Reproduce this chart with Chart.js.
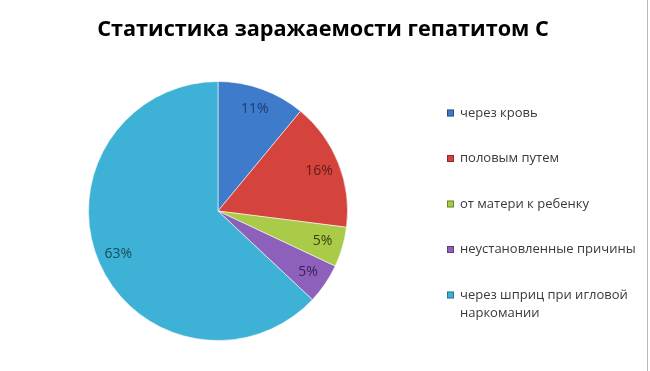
<!DOCTYPE html>
<html>
<head>
<meta charset="utf-8">
<script src="https://cdn.jsdelivr.net/npm/chart.js@4.4.1/dist/chart.umd.min.js"></script>
<style>
  html, body { margin: 0; padding: 0; background: #fff; }
  #wrap { width: 650px; height: 371px; position: relative; }
</style>
</head>
<body>
<div id="wrap"><canvas id="hepChart"></canvas></div>
<script>
const chartTitle = "Статистика заражаемости гепатитом С";
const categories = [
  "через кровь",
  "половым путем",
  "от матери к ребенку",
  "неустановленные причины",
  ["через шприц при игловой", "наркомании"]
];
const shares = [11, 16, 5, 5, 63];
const sliceColors = ["#3f7bcb", "#d5433d", "#a9cb48", "#8c60bb", "#3db2d6"];
const labelColors = ["#1d3c6e", "#5c1c19", "#34420f", "#3a1f5e", "#164b5c"];

// percent labels inside the slices
const sliceLabels = {
  id: "sliceLabels",
  afterDatasetsDraw(chart) {
    const ctx = chart.ctx;
    const meta = chart.getDatasetMeta(0);
    ctx.save();
    ctx.font = "14px 'Open Sans'";
    ctx.textAlign = "center";
    ctx.textBaseline = "middle";
    meta.data.forEach((arc, i) => {
      const p = arc.getProps(["x", "y", "startAngle", "endAngle", "outerRadius"], true);
      const mid = (p.startAngle + p.endAngle) / 2;
      const r = p.outerRadius * 0.84;
      ctx.fillStyle = labelColors[i];
      ctx.fillText(shares[i] + "%", p.x + Math.cos(mid) * r, p.y + Math.sin(mid) * r);
    });
    ctx.restore();
  }
};

// title + legend on the right, drawn by hand to match the spacing
const sideLegend = {
  id: "sideLegend",
  afterDraw(chart) {
    const ctx = chart.ctx;
    ctx.save();
    ctx.fillStyle = "#000";
    ctx.font = "bold 21.7px 'Open Sans'";
    ctx.textAlign = "center";
    ctx.textBaseline = "middle";
    ctx.fillText(chartTitle, 323, 30);

    ctx.textAlign = "left";
    ctx.font = "13px 'Open Sans'";
    categories.forEach((name, i) => {
      const y = 113 + i * 45.5;
      ctx.fillStyle = sliceColors[i];
      ctx.fillRect(447, y - 3.5, 7, 7);
      ctx.strokeStyle = "rgba(0,0,0,0.35)";
      ctx.lineWidth = 1;
      ctx.strokeRect(447.5, y - 3, 6, 6);
      ctx.fillStyle = "#3a3a3a";
      const lines = Array.isArray(name) ? name : [name];
      lines.forEach((t, k) => ctx.fillText(t, 460, y + k * 18));
    });
    // thin frame line at the right edge
    ctx.strokeStyle = "#b8b8b8";
    ctx.beginPath();
    ctx.moveTo(647.5, 0);
    ctx.lineTo(647.5, 371);
    ctx.stroke();
    ctx.restore();
  }
};

new Chart(document.getElementById("hepChart").getContext("2d"), {
  type: "pie",
  data: {
    labels: categories.map(c => Array.isArray(c) ? c.join(" ") : c),
    datasets: [{
      data: shares,
      backgroundColor: sliceColors,
      borderColor: "rgba(255,255,255,0.55)",
      borderWidth: 1
    }]
  },
  options: {
    responsive: true,
    maintainAspectRatio: false,
    animation: false,
    layout: { padding: { left: 0, right: 214, top: 81, bottom: 30 } },
    plugins: {
      legend: { display: false },
      tooltip: { enabled: false },
      title: { display: false }
    }
  },
  plugins: [sliceLabels, sideLegend]
});
</script>
</body>
</html>
